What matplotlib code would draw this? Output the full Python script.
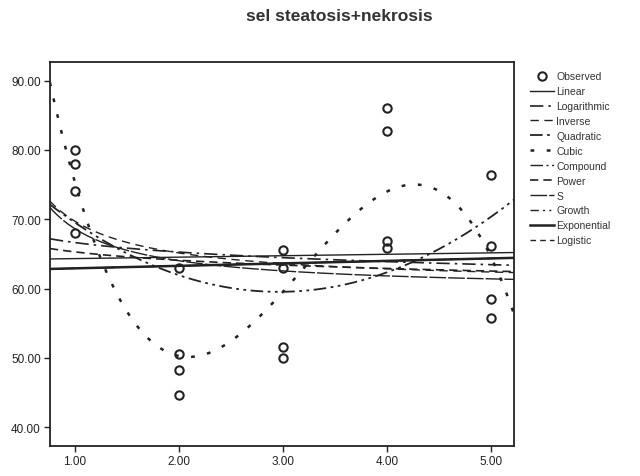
import numpy as np
import matplotlib
matplotlib.use("Agg")
import matplotlib.pyplot as plt

plt.rcParams['font.family'] = ['Liberation Sans', 'DejaVu Sans']

# Observed data
obs_x = [1, 1, 1, 1, 2, 2, 2, 2, 3, 3, 3, 3, 4, 4, 4, 4, 5, 5, 5, 5]
obs_y = [80.0, 78.0, 74.1, 68.0,
         63.0, 50.6, 48.2, 44.7,
         65.5, 63.0, 51.6, 50.0,
         86.0, 82.7, 66.8, 65.9,
         76.4, 66.2, 58.5, 55.7]

model_names = ["Linear", "Logarithmic", "Inverse", "Quadratic", "Cubic",
               "Compound", "Power", "S", "Growth", "Exponential", "Logistic"]
x_ticks = [1.0, 2.0, 3.0, 4.0, 5.0]
y_ticks = [40.0, 50.0, 60.0, 70.0, 80.0, 90.0]
title = "sel steatosis+nekrosis"

X = np.array(obs_x, float)
Y = np.array(obs_y, float)
xs = np.linspace(0.76, 5.22, 300)


def linfit(u, v):
    b, a = np.polyfit(u, v, 1)
    return a, b


curves = {}
a, b = linfit(X, Y); curves["Linear"] = a + b * xs
a, b = linfit(np.log(X), Y); curves["Logarithmic"] = a + b * np.log(xs)
a, b = linfit(1 / X, Y); curves["Inverse"] = a + b / xs
curves["Quadratic"] = np.polyval(np.polyfit(X, Y, 2), xs)
curves["Cubic"] = np.polyval(np.polyfit(X, Y, 3), xs)
a, b = linfit(X, np.log(Y)); curves["Compound"] = np.exp(a + b * xs)
a, b = linfit(np.log(X), np.log(Y)); curves["Power"] = np.exp(a) * xs ** b
a, b = linfit(1 / X, np.log(Y)); curves["S"] = np.exp(a + b / xs)
curves["Growth"] = curves["Compound"]
curves["Exponential"] = curves["Compound"]
a, b = linfit(X, np.log(1 / Y)); curves["Logistic"] = 1 / np.exp(a + b * xs)

styles = {
    "Linear": dict(ls="-", lw=1.0),
    "Logarithmic": dict(ls=(0, (8, 3, 1.5, 3)), lw=1.2),
    "Inverse": dict(ls=(0, (6, 4)), lw=1.0),
    "Quadratic": dict(ls=(0, (7, 2.5, 1.5, 2.5, 1.5, 2.5)), lw=1.3),
    "Cubic": dict(ls=(0, (1.5, 5)), lw=1.8),
    "Compound": dict(ls=(0, (9, 2.5, 1.5, 2.5, 1.5, 2.5)), lw=1.0),
    "Power": dict(ls=(0, (5, 3)), lw=1.2),
    "S": dict(ls=(0, (12, 1.5)), lw=1.0),
    "Growth": dict(ls=(0, (6, 3, 1.5, 3, 1.5, 3)), lw=1.0),
    "Exponential": dict(ls="-", lw=1.8),
    "Logistic": dict(ls=(0, (4, 3)), lw=1.0),
}

fig = plt.figure(figsize=(6.4, 4.77), dpi=100)
ax = fig.add_axes([0.078, 0.063, 0.725, 0.805])

ax.plot(X, Y, linestyle="none", marker="o", markersize=6, markerfacecolor="none",
        markeredgecolor="#222222", markeredgewidth=1.5, label="Observed")
for name in model_names:
    ax.plot(xs, curves[name], color="#222222", label=name, **styles[name])

ax.set_xlim(0.76, 5.22)
ax.set_ylim(37.3, 92.7)
ax.set_xticks(x_ticks)
ax.set_yticks(y_ticks)
ax.set_xticklabels([f"{t:.2f}" for t in x_ticks], fontsize=8.5)
ax.set_yticklabels([f"{t:.2f}" for t in y_ticks], fontsize=8.5)
ax.tick_params(direction="out", length=4.5, width=1, colors="#222222", pad=2)
for s in ax.spines.values():
    s.set_linewidth(1.3)
    s.set_color("#222222")

fig.text(0.53, 0.965, title, ha="center", va="center", fontsize=12.5,
         fontweight="bold", color="#333333")

fig.legend(loc="upper left", bbox_to_anchor=(0.822, 0.857), frameon=False,
           fontsize=7.5, handlelength=2.3, handletextpad=0.2, labelspacing=0.47,
           borderaxespad=0, labelcolor="#333333")

fig.savefig("out.png", dpi=100)
